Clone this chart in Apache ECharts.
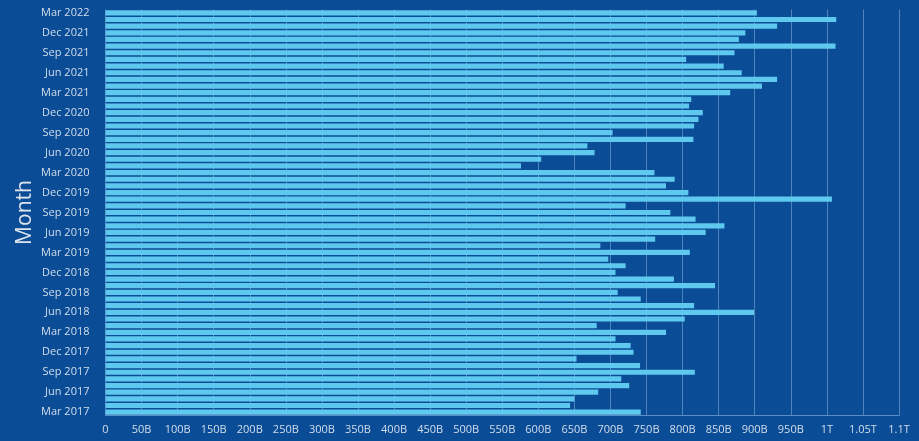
<!DOCTYPE html>
<html>
<head>
<meta charset="utf-8">
<script src="https://cdn.jsdelivr.net/npm/echarts@6/dist/echarts.min.js"></script>
<style>
html,body{margin:0;padding:0;background:#0a4d96;}
#c{width:919px;height:441px;}
</style>
</head>
<body>
<div id="c"></div>
<script>
// Months from Mar 2017 (bottom) to Mar 2022 (top)
const monthNames = ["Jan","Feb","Mar","Apr","May","Jun","Jul","Aug","Sep","Oct","Nov","Dec"];
const categories = [];
for (let y = 2017, m = 2; ; ) {
  categories.push(monthNames[m] + " " + y);
  if (y === 2022 && m === 2) break;
  m++; if (m === 12) { m = 0; y++; }
}
// Values in billions, Mar 2017 ... Mar 2022
const values = [
  742, 644, 650, 683, 726, 715, 817, 741, 653, 732,
  728, 707, 777, 681, 803, 899, 816, 742, 710, 845,
  788, 707, 721, 697, 810, 686, 762, 832, 858, 818,
  783, 721, 1007, 808, 777, 789, 761, 576, 604, 678,
  668, 815, 703, 816, 822, 828, 809, 812, 866, 910,
  931, 882, 857, 805, 872, 1012, 878, 887, 931, 1013,
  903
];
const xTicks = { min: 0, max: 1100, interval: 50 };

function fmt(v) {
  if (v === 0) return "0";
  if (v < 1000) return v + "B";
  return (v / 1000) + "T";
}

const chart = echarts.init(document.getElementById('c'));
chart.setOption({
  backgroundColor: '#0a4d96',
  animation: false,
  grid: { left: 105.5, right: 20, top: 9.5, bottom: 25.5, containLabel: false, outerBoundsMode: 'none' },
  xAxis: {
    type: 'value',
    min: xTicks.min, max: xTicks.max, interval: xTicks.interval,
    axisLine: { show: true, lineStyle: { color: '#5b8dc2', width: 1 } },
    axisTick: { show: false },
    splitLine: { show: true, lineStyle: { color: '#4f84bb', width: 1 } },
    axisLabel: { color: '#d3deeb', fontSize: 11, fontFamily: 'Open Sans', margin: 9, formatter: fmt }
  },
  yAxis: {
    type: 'category',
    data: categories,
    name: 'Month',
    nameLocation: 'middle',
    nameGap: 70,
    nameMoveOverlap: false,
    nameTextStyle: { color: '#dde4ee', fontSize: 21, fontFamily: 'Open Sans' },
    axisLine: { show: false },
    axisTick: { show: false },
    splitLine: { show: false },
    axisLabel: { color: '#d3deeb', fontSize: 11, fontFamily: 'Open Sans', interval: 2, margin: 16 }
  },
  series: [{
    type: 'bar',
    data: values,
    barCategoryGap: '22%',
    itemStyle: { color: '#5ec8ef' }
  }]
});
</script>
</body>
</html>
